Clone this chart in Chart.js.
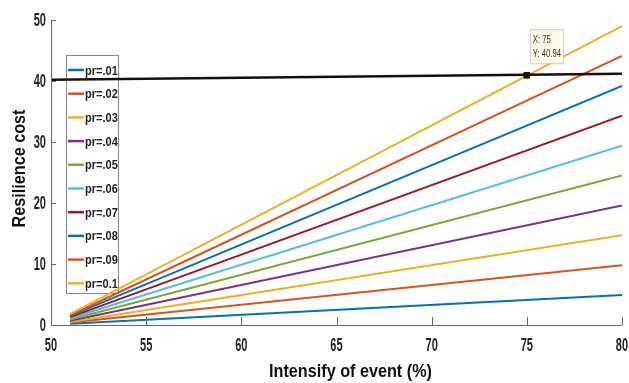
<!DOCTYPE html>
<html>
<head>
<meta charset="utf-8">
<script src="https://cdn.jsdelivr.net/npm/chart.js@4"></script>
<style>
  html, body { margin: 0; padding: 0; background: #fff; }
  #wrap { width: 629px; height: 383px; }
</style>
</head>
<body>
<div id="wrap"><canvas id="chart"></canvas></div>
<script>
// values at x = 51 and x = 80
const xPoints = [51, 80];
const seriesLabels = ['pr=.01', 'pr=.02', 'pr=.03', 'pr=.04', 'pr=.05', 'pr=.06', 'pr=.07', 'pr=.08', 'pr=.09', 'pr=0.1'];
const pr01 = [0.2, 4.9];
const pr02 = [0.4, 9.8];
const pr03 = [0.5, 14.7];
const pr04 = [0.7, 19.6];
const pr05 = [0.9, 24.5];
const pr06 = [1.1, 29.4];
const pr07 = [1.3, 34.3];
const pr08 = [1.5, 39.2];
const pr09 = [1.6, 44.1];
const pr10 = [1.8, 49.0];
const seriesValues = [pr01, pr02, pr03, pr04, pr05, pr06, pr07, pr08, pr09, pr10];
const seriesColors = ['#0072BD', '#D95319', '#EDB120', '#7E2F8E', '#77AC30', '#4DBEEE', '#A2142F', '#0072BD', '#D95319', '#EDB120'];

// black reference line
const limitX = [50, 80];
const limitY = [40.2, 41.2];

// data tip
const tipX = 75;
const tipY = 40.94;

const xTicks = [50, 55, 60, 65, 70, 75, 80];
const yTicks = [0, 10, 20, 30, 40, 50];

const sans = '"Liberation Sans", Arial, sans-serif';

// squeezed text, the figure's fonts are condensed
function squeezed(ctx, text, x, y, font, sx, align, rot) {
    ctx.save();
    ctx.translate(x, y);
    if (rot) ctx.rotate(rot);
    ctx.scale(sx, 1);
    ctx.font = font;
    ctx.textAlign = align;
    ctx.textBaseline = 'middle';
    ctx.fillText(text, 0, 0);
    ctx.restore();
}

const datasets = seriesValues.map((vals, i) => ({
    label: seriesLabels[i],
    data: xPoints.map((x, j) => ({ x: x, y: vals[j] })),
    borderColor: seriesColors[i],
    backgroundColor: seriesColors[i],
    borderWidth: 2,
    pointRadius: 0,
    order: 10 - i
}));
datasets.push({
    label: 'limit',
    data: limitX.map((x, j) => ({ x: x, y: limitY[j] })),
    borderColor: '#111',
    borderWidth: 2.5,
    pointRadius: 0,
    order: -1
});
datasets.push({
    label: 'tip',
    data: [{ x: tipX, y: tipY }],
    showLine: false,
    pointStyle: 'rect',
    pointRadius: 4,
    pointBackgroundColor: '#111',
    pointBorderColor: '#111',
    order: -2
});

// legend box inside the plot, drawn before the lines so the black line crosses it
const boxLegend = {
    id: 'boxLegend',
    beforeDatasetsDraw(chart) {
        const ctx = chart.ctx;
        const area = chart.chartArea;
        const left = area.left + 15, top = area.top + 35, w = 52, rowH = 23.7;
        const h = rowH * seriesLabels.length + 1;
        ctx.save();
        ctx.fillStyle = '#fff';
        ctx.strokeStyle = '#888';
        ctx.lineWidth = 1;
        ctx.fillRect(left, top, w, h);
        ctx.strokeRect(left + 0.5, top + 0.5, w, h);
        seriesLabels.forEach((lab, i) => {
            const y = top + 15 + i * rowH;
            ctx.strokeStyle = seriesColors[i];
            ctx.lineWidth = 2.5;
            ctx.beginPath();
            ctx.moveTo(left + 2, y);
            ctx.lineTo(left + 18, y);
            ctx.stroke();
            ctx.fillStyle = '#222';
            squeezed(ctx, lab, left + 19, y + 1, 'bold 13px ' + sans, 0.85, 'left');
        });
        ctx.restore();
    }
};

// axis lines, inward ticks, tick labels, data tip box and axis titles
const matlabAxes = {
    id: 'matlabAxes',
    afterDraw(chart) {
        const ctx = chart.ctx;
        const area = chart.chartArea;
        const xs = chart.scales.x, ys = chart.scales.y;
        ctx.save();
        ctx.strokeStyle = '#666';
        ctx.lineWidth = 1;
        ctx.beginPath();
        ctx.moveTo(area.left + 0.5, area.top);
        ctx.lineTo(area.left + 0.5, area.bottom + 0.5);
        ctx.lineTo(area.right, area.bottom + 0.5);
        xTicks.forEach(v => {
            const px = Math.round(xs.getPixelForValue(v)) + 0.5;
            ctx.moveTo(px, area.bottom);
            ctx.lineTo(px, area.bottom - 8);
        });
        yTicks.forEach(v => {
            const py = Math.round(ys.getPixelForValue(v)) + 0.5;
            ctx.moveTo(area.left, py);
            ctx.lineTo(area.left + 5, py);
        });
        ctx.stroke();

        ctx.fillStyle = '#222';
        const tickFont = 'bold 19px ' + sans;
        xTicks.forEach(v => {
            squeezed(ctx, String(v), xs.getPixelForValue(v), area.bottom + 21, tickFont, 0.58, 'center');
        });
        yTicks.forEach(v => {
            squeezed(ctx, String(v), area.left - 5, ys.getPixelForValue(v) + 1, tickFont, 0.58, 'right');
        });

        // data tip
        const px = xs.getPixelForValue(tipX);
        const py = ys.getPixelForValue(tipY);
        const bx = px + 3, by = py - 46, bw = 33, bh = 34;
        ctx.fillStyle = '#fdfce8';
        ctx.strokeStyle = '#ccc';
        ctx.fillRect(bx, by, bw, bh);
        ctx.strokeRect(bx + 0.5, by + 0.5, bw, bh);
        ctx.fillStyle = '#333';
        squeezed(ctx, 'X: ' + tipX, bx + 3, by + 11, '11px ' + sans, 0.7, 'left');
        squeezed(ctx, 'Y: ' + tipY, bx + 3, by + 25, '11px ' + sans, 0.7, 'left');

        // axis titles
        ctx.fillStyle = '#111';
        squeezed(ctx, 'Intensify of event (%)', (area.left + area.right) / 2 + 14, 372, 'bold 18px ' + sans, 0.9, 'center');
        squeezed(ctx, 'Resilience cost', 20, (area.top + area.bottom) / 2 - 4, 'bold 18px ' + sans, 0.9, 'center', -Math.PI / 2);
        ctx.restore();
    }
};

new Chart(document.getElementById('chart').getContext('2d'), {
    type: 'line',
    data: { datasets: datasets },
    options: {
        responsive: true,
        maintainAspectRatio: false,
        animation: false,
        layout: { padding: { top: 20, right: 7, left: 0, bottom: 0 } },
        plugins: {
            legend: { display: false },
            tooltip: { enabled: false }
        },
        scales: {
            x: {
                type: 'linear',
                min: 50,
                max: 80,
                afterFit: s => { s.height = 58; },
                afterBuildTicks: s => { s.ticks = xTicks.map(v => ({ value: v })); },
                grid: { display: false },
                border: { display: false },
                ticks: { display: false }
            },
            y: {
                type: 'linear',
                min: 0,
                max: 50,
                afterFit: s => { s.width = 51; },
                afterBuildTicks: s => { s.ticks = yTicks.map(v => ({ value: v })); },
                grid: { display: false },
                border: { display: false },
                ticks: { display: false }
            }
        }
    },
    plugins: [boxLegend, matlabAxes]
});
</script>
</body>
</html>
